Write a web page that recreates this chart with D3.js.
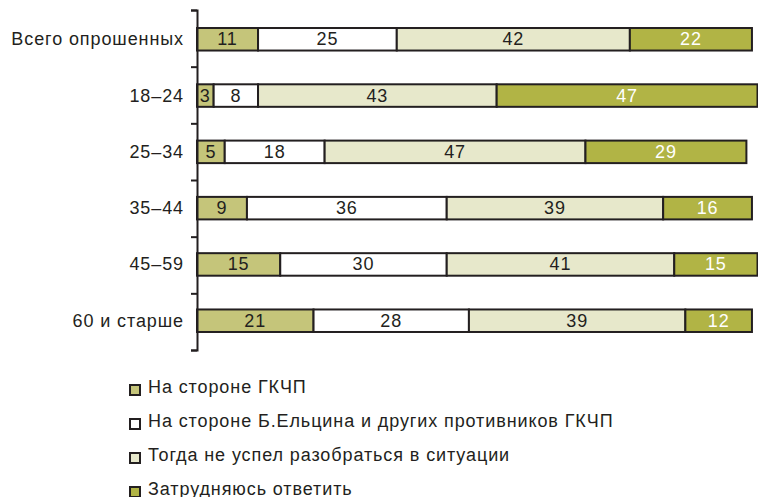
<!DOCTYPE html>
<html>
<head>
<meta charset="utf-8">
<script src="https://cdn.jsdelivr.net/npm/d3@7"></script>
<style>
  body { margin: 0; background: #fff; }
  text { font-family: "Liberation Sans", Arial, sans-serif; letter-spacing: 0.9px; }
</style>
</head>
<body>
<svg width="758" height="497"></svg>
<script>
// groups of respondents
var groups = ["Всего опрошенных", "18–24", "25–34", "35–44", "45–59", "60 и старше"];

// answers, one array per series
var series = ["На стороне ГКЧП",
              "На стороне Б.Ельцина и других противников ГКЧП",
              "Тогда не успел разобраться в ситуации",
              "Затрудняюсь ответить"];
var gkchp   = [11, 3, 5, 9, 15, 21];
var yeltsin = [25, 8, 18, 36, 30, 28];
var unsure  = [42, 43, 47, 39, 41, 39];
var noAns   = [22, 47, 29, 16, 15, 12];

var colors = ["#c5c57a", "#ffffff", "#e7e8cb", "#b1b445"];
var textColors = ["#231f20", "#231f20", "#231f20", "#ffffff"];

var svg = d3.select("svg");

var x = d3.scaleLinear()
    .domain([0, 101])
    .range([197, 757.5]);

var y = d3.scaleBand()
    .domain(groups)
    .range([10, 350])
    .paddingInner(0.6)
    .paddingOuter(0.32);

// stack the four series
var rows = groups.map(function(g, i) {
  return {group: g, v0: gkchp[i], v1: yeltsin[i], v2: unsure[i], v3: noAns[i]};
});
var stack = d3.stack().keys(["v0", "v1", "v2", "v3"]);
var layers = stack(rows);

var layer = svg.selectAll("g.layer")
  .data(layers)
  .enter().append("g")
    .attr("class", "layer");

layer.selectAll("rect")
  .data(function(d) { return d; })
  .enter().append("rect")
    .attr("x", function(d) { return x(d[0]); })
    .attr("width", function(d) { return x(d[1]) - x(d[0]); })
    .attr("y", function(d) { return y(d.data.group); })
    .attr("height", y.bandwidth())
    .attr("fill", function(d, i, nodes) { return colors[layers.indexOf(d3.select(nodes[i].parentNode).datum())]; })
    .attr("stroke", "#231f20")
    .attr("stroke-width", 2);

layer.selectAll("text")
  .data(function(d) { return d; })
  .enter().append("text")
    .attr("x", function(d) { return (x(d[0]) + x(d[1])) / 2; })
    .attr("y", function(d) { return y(d.data.group) + y.bandwidth() / 2 + 6; })
    .attr("text-anchor", "middle")
    .attr("font-size", 18)
    .attr("fill", function(d, i, nodes) { return textColors[layers.indexOf(d3.select(nodes[i].parentNode).datum())]; })
    .text(function(d) { return d[1] - d[0]; });

// axis with ticks between the groups
var yTicks = d3.scaleLinear().domain([0, groups.length]).range([10, 350]);
svg.append("g")
    .attr("transform", "translate(197,0)")
    .call(d3.axisLeft(yTicks).ticks(groups.length).tickSize(6).tickFormat(""))
    .call(function(g) {
      g.selectAll("path, line").attr("stroke", "#231f20").attr("stroke-width", 2);
    });

svg.selectAll("text.group")
  .data(groups)
  .enter().append("text")
    .attr("class", "group")
    .attr("x", 184)
    .attr("y", function(d) { return y(d) + y.bandwidth() / 2 + 6; })
    .attr("text-anchor", "end")
    .attr("font-size", 18)
    .attr("fill", "#231f20")
    .text(function(d) { return d; });

// legend
var legend = svg.selectAll("g.legend")
  .data(series)
  .enter().append("g")
    .attr("class", "legend")
    .attr("transform", function(d, i) { return "translate(130," + (382 + i * 34) + ")"; });

legend.append("rect")
    .attr("y", 3)
    .attr("width", 10)
    .attr("height", 10)
    .attr("fill", function(d, i) { return colors[i]; })
    .attr("stroke", "#231f20")
    .attr("stroke-width", 2);

legend.append("text")
    .attr("x", 18)
    .attr("y", 11)
    .attr("font-size", 18)
    .attr("fill", "#231f20")
    .text(function(d) { return d; });
</script>
</body>
</html>
